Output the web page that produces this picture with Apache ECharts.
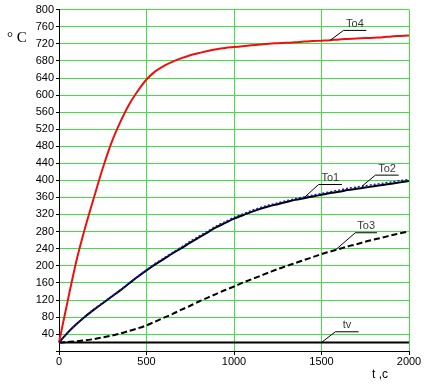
<!DOCTYPE html>
<html><head><meta charset="utf-8">
<script src="https://cdn.jsdelivr.net/npm/echarts@6/dist/echarts.min.js"></script>
<style>html,body{margin:0;padding:0;background:#fff}#c{width:428px;height:384px}</style>
</head><body><div id="c"></div>
<script>
// time, s (every 50 s)
const timeS = [0,50,100,150,200,250,300,350,400,450,500,550,600,650,700,750,800,850,900,950,1000,
  1050,1100,1150,1200,1250,1300,1350,1400,1450,1500,1550,1600,1650,1700,1750,1800,1850,1900,1950,2000];
// temperatures, °C
const To4 = [20,118,212,290,360,428,488,536,577,609,636,655,668,678,686,693,698,703,707,710,712,
  714,716,718,720,721,722,723,725,726,727,728,730,731,732,733,734,735,737,738,739];
const To1 = [20,43,63,81,97,112,127,142,158,174,189,203,216,229,241,254,266,278,290,300,310,
  318,326,333,339,344,349,354,358,362,366,370,373,377,380,383,386,389,392,395,398];
const To2 = [20,43,63,82,98,113,128,143,159,175,190,205,218,231,244,257,269,281,293,303,313,
  321,329,336,342,347,352,357,361,365,369,373,377,381,384,387,390,393,396,399,402];
const To3 = [20,21,23,25,28,32,36,41,47,53,60,69,78,87,97,106,116,125,134,143,151,
  160,168,176,184,192,199,206,213,220,227,233,239,245,250,256,261,266,271,276,280];
const tvTime = [0,2000];
const tv  = [20,20];
// axis ticks
const yTicks = {min:0, max:800, step:40};
const xTicks = {min:0, max:2000, step:500};
// curve annotations: label, anchor time, elbow [t, T], end time of underline
const annNames  = ['To4','To1','To2','To3','tv'];
const annAnchor = [1550,1397,1731,1579,1500];
const annElbow  = [[1626,751],[1483,390],[1808,412],[1693,277],[1579,45]];
const annEnd    = [1756,1617,1941,1817,1712];

function pairs(ts,vals){ return ts.map((t,i)=>[t,vals[i]]); }
function valueAt(ts,vals,t){
  for(let i=1;i<ts.length;i++){
    if(t<=ts[i]){const a=ts[i-1],b=ts[i];return vals[i-1]+(vals[i]-vals[i-1])*(t-a)/(b-a);}
  }
  return vals[vals.length-1];
}
const annSeries = [[timeS,To4],[timeS,To1],[timeS,To2],[timeS,To3],[tvTime,tv]];
const green = '#3fe03f';
const font = 'Arial, "Liberation Sans", sans-serif';
const series = [
  {name:'tv',type:'line',data:pairs(tvTime,tv),showSymbol:false,lineStyle:{color:'#000',width:2},z:3},
  {name:'To3',type:'line',data:pairs(timeS,To3),showSymbol:false,smooth:0.3,lineStyle:{color:'#000',width:2,type:[6,3]},z:3},
  {name:'To1',type:'line',data:pairs(timeS,To1),showSymbol:false,smooth:0.3,lineStyle:{color:'#000',width:2},z:3},
  {name:'To2',type:'line',data:pairs(timeS,To2),showSymbol:false,smooth:0.3,lineStyle:{color:'#1818d0',width:1.5,type:[2,2]},z:4},
  {name:'To4',type:'line',data:pairs(timeS,To4),showSymbol:false,smooth:0.3,lineStyle:{color:'#ee1010',width:2},z:3}
];
annNames.forEach((n,i)=>{
  const [ts,vs]=annSeries[i];
  const ta=annAnchor[i], va=valueAt(ts,vs,ta);
  const e=annElbow[i];
  series.push({type:'line',data:[[ta,va],e,[annEnd[i],e[1]]],showSymbol:false,silent:true,
    lineStyle:{color:'#000',width:1},z:5});
  series.push({type:'scatter',data:[[(e[0]+annEnd[i])/2,e[1]]],symbolSize:0,silent:true,z:6,
    label:{show:true,position:'top',distance:1,formatter:n,color:'#000',fontSize:11,fontFamily:font}});
});
const chart = echarts.init(document.getElementById('c'),null,{renderer:'canvas'});
chart.setOption({
  animation:false,
  backgroundColor:'#fff',
  grid:{left:59,right:19,top:9.5,bottom:33,containLabel:false},
  xAxis:{type:'value',min:xTicks.min,max:xTicks.max,interval:xTicks.step,
    axisLine:{show:true,onZero:false,lineStyle:{color:'#000',width:1}},
    axisTick:{show:true,length:4,lineStyle:{color:'#000'}},
    axisLabel:{color:'#000',fontSize:11,fontFamily:font,margin:5,formatter:v=>String(v)},
    splitLine:{show:true,lineStyle:{color:green,width:1}}},
  yAxis:{type:'value',min:yTicks.min,max:yTicks.max,interval:yTicks.step,
    axisLine:{show:true,lineStyle:{color:'#000',width:1}},
    axisTick:{show:true,length:3,lineStyle:{color:'#000'}},
    axisLabel:{color:'#000',fontSize:11,fontFamily:font,margin:5,formatter:v=>v===0?'':String(v)},
    splitLine:{show:true,lineStyle:{color:green,width:1}}},
  graphic:[
    {type:'text',left:7,top:31,style:{text:'° C',font:'15px "Liberation Serif", "Times New Roman", serif',fill:'#000'}},
    {type:'text',left:372,top:369,style:{text:'t ,c',font:'12px Arial, "Liberation Sans", sans-serif',fill:'#000'}}
  ],
  series
});
</script></body></html>
